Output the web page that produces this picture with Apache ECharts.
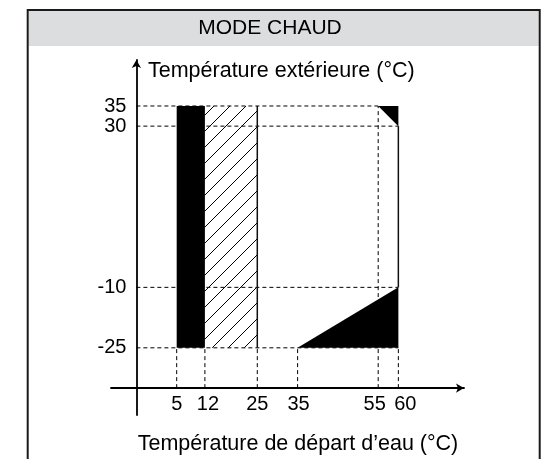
<!DOCTYPE html>
<html><head><meta charset="utf-8">
<script src="https://cdn.jsdelivr.net/npm/echarts@6/dist/echarts.min.js"></script>
<style>html,body{margin:0;padding:0;background:#fff}#c{width:546px;height:459px}</style>
</head><body><div id="c"></div>
<script>
// ---- data ----
const titleText = 'MODE CHAUD';
const yAxisTitle = 'Température extérieure (°C)';
const xAxisTitle = 'Température de départ d’eau (°C)';
const xTicks = [5, 12, 25, 35, 55, 60];
const yTicks = [35, 30, -10, -25];
const xAxisAtY = -35;   // value of outdoor temperature where the x axis is drawn
const yAxisAtX = -5;    // value of water temperature where the y axis is drawn
// bands [xFrom, xTo, yFrom, yTo]
const solidBand = [[5, 12, -25, 35]];
const hatchedBand = [[12, 25, -25, 35]];
// triangles [x1, y1, x2, y2, x3, y3]
const blackTriangles = [[55, 35, 60, 35, 60, 30], [35, -25, 60, -25, 60, -10]];
// solid edges [x1, y1, x2, y2]
const solidEdges = [[25, -25, 25, 35], [60, -10, 60, 30]];
// dashed guide lines [x1, y1, x2, y2]
const dashedH = [[yAxisAtX, 35, 55, 35], [yAxisAtX, 30, 60, 30], [yAxisAtX, -10, 60, -10], [yAxisAtX, -25, 60, -25]];
const dashedV = [[5, xAxisAtY, 5, -25], [12, xAxisAtY, 12, -25], [25, xAxisAtY, 25, -25], [35, xAxisAtY, 35, -25], [55, xAxisAtY, 55, 35], [60, xAxisAtY, 60, -25]];

// ---- layout ----
const FONT = "'Liberation Sans', Arial, sans-serif";
const grid = {left: 111, top: 60, width: 353, height: 355};
const xMin = -11.30, xMax = 76.29;
const yMin = -41.67, yMax = 46.41;
const yAxisOffset = -((yAxisAtX - xMin) / (xMax - xMin) * grid.width);
const xAxisOffset = -((xAxisAtY - yMin) / (yMax - yMin) * grid.height);
// small horizontal nudges (px) of the x tick labels so that close labels do not collide
const xLabelNudge = [0, 3, 0, 1, -3.5, 7];

// hatch pattern
const pc = document.createElement('canvas');
pc.width = 16; pc.height = 16;
const g = pc.getContext('2d');
g.strokeStyle = '#000'; g.lineWidth = 1;
g.beginPath();
g.moveTo(0, 16); g.lineTo(16, 0);
g.moveTo(-2, 2); g.lineTo(2, -2);
g.moveTo(14, 18); g.lineTo(18, 14);
g.stroke();
const hatch = {image: pc, repeat: 'repeat'};

function segRender(style) {
  return function (params, api) {
    const a = api.coord([api.value(0), api.value(1)]);
    const b = api.coord([api.value(2), api.value(3)]);
    return {type: 'line', shape: {x1: a[0], y1: a[1], x2: b[0], y2: b[1]}, style: style};
  };
}
function rectRender(fill) {
  return function (params, api) {
    const p1 = api.coord([api.value(0), api.value(3)]);
    const p2 = api.coord([api.value(1), api.value(2)]);
    return {type: 'rect', shape: {x: p1[0], y: p1[1], width: p2[0] - p1[0], height: p2[1] - p1[1]}, style: {fill: fill}};
  };
}
function triRender(params, api) {
  const pts = [];
  for (let i = 0; i < 3; i++) pts.push(api.coord([api.value(2 * i), api.value(2 * i + 1)]));
  return {type: 'polygon', shape: {points: pts}, style: {fill: '#000'}};
}
function xLabelRender(params, api) {
  const p = api.coord([api.value(0), xAxisAtY]);
  return {type: 'text', x: p[0] + (xLabelNudge[params.dataIndex] || 0), y: p[1] + 6,
    style: {text: String(api.value(0)), textAlign: 'center', textVerticalAlign: 'top', font: '20px ' + FONT, fill: '#000'}};
}

const chart = echarts.init(document.getElementById('c'), null, {renderer: 'canvas'});
const dashStyle = {stroke: '#000', lineWidth: 1, lineDash: [4, 3]};
chart.setOption({
  animation: false,
  backgroundColor: '#fff',
  grid: Object.assign({outerBoundsMode: 'none', containLabel: false}, grid),
  xAxis: {
    type: 'value', min: xMin, max: xMax, offset: xAxisOffset,
    axisLine: {show: true, onZero: false, symbol: ['none', 'arrow'], symbolSize: [7, 8], lineStyle: {color: '#000', width: 1.8}},
    axisTick: {show: false}, splitLine: {show: false},
    axisLabel: {show: false}
  },
  yAxis: {
    type: 'value', min: yMin, max: yMax, offset: yAxisOffset,
    axisLine: {show: true, onZero: false, symbol: ['none', 'arrow'], symbolSize: [7, 8], lineStyle: {color: '#000', width: 1.8}},
    axisTick: {show: false}, splitLine: {show: false},
    axisLabel: {customValues: yTicks, margin: 10, color: '#000', fontSize: 20, fontFamily: FONT}
  },
  graphic: [
    {type: 'rect', shape: {x: 28.7, y: 11, width: 510, height: 35}, style: {fill: '#dcdddf'}, z: 0},
    {type: 'polyline', shape: {points: [[27.7, 470], [27.7, 10], [539.7, 10], [539.7, 470]]}, style: {stroke: '#1a1a1a', lineWidth: 2, fill: null}, z: 1},
    {type: 'text', style: {text: titleText, x: 270, y: 28.5, textAlign: 'center', textVerticalAlign: 'middle', font: '21px ' + FONT, fill: '#000'}},
    {type: 'text', style: {text: yAxisTitle, x: 148, y: 71, textAlign: 'left', textVerticalAlign: 'middle', font: '21.5px ' + FONT, fill: '#000'}},
    {type: 'text', style: {text: xAxisTitle, x: 298, y: 444, textAlign: 'center', textVerticalAlign: 'middle', font: '21.5px ' + FONT, fill: '#000'}}
  ],
  series: [
    {type: 'custom', z: 1, data: dashedH.concat(dashedV), renderItem: segRender(dashStyle)},
    {type: 'custom', z: 2, data: solidBand, renderItem: rectRender('#000')},
    {type: 'custom', z: 2, data: hatchedBand, renderItem: rectRender(hatch)},
    {type: 'custom', z: 2, data: blackTriangles, renderItem: triRender},
    {type: 'custom', z: 3, data: solidEdges, renderItem: segRender({stroke: '#111', lineWidth: 1.5})},
    {type: 'custom', z: 3, data: xTicks.map(function (v) { return [v]; }), renderItem: xLabelRender}
  ]
});
</script>
</body></html>
